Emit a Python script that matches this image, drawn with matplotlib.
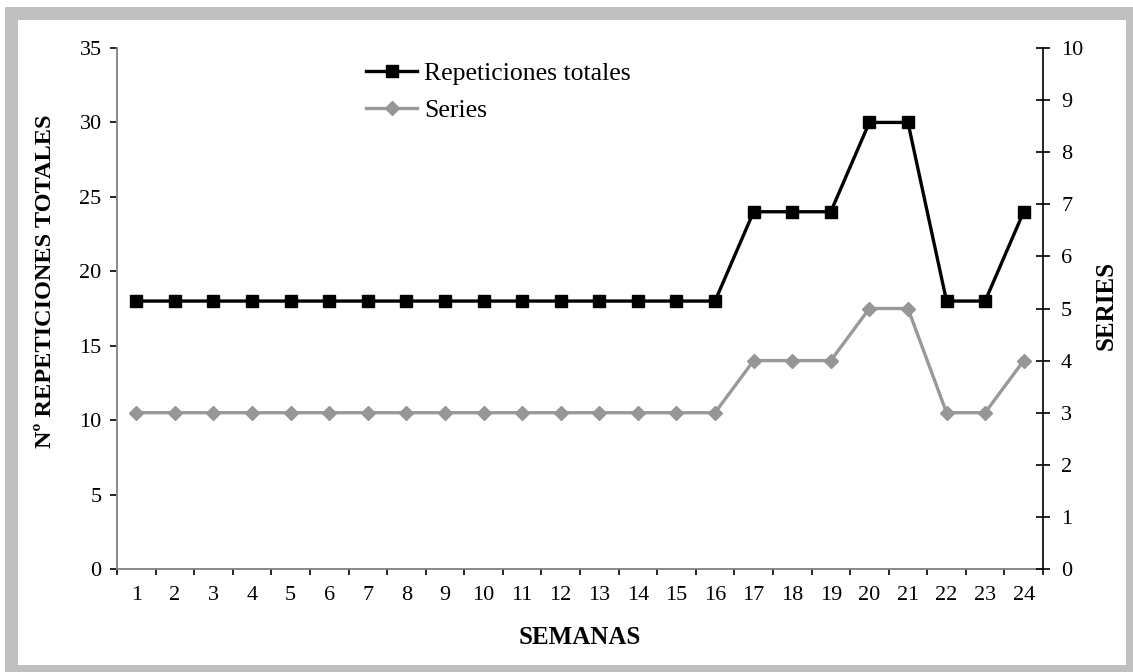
import matplotlib
matplotlib.use("Agg")
import matplotlib.pyplot as plt
from matplotlib.patches import Rectangle
from matplotlib.ticker import FixedLocator, NullFormatter

plt.rcParams['font.family'] = ['Liberation Serif', 'DejaVu Serif']

# weekly training load
semanas = list(range(1, 25))
repeticiones = [18, 18, 18, 18, 18, 18, 18, 18, 18, 18, 18, 18, 18, 18, 18, 18,
                24, 24, 24, 30, 30, 18, 18, 24]
series = [3, 3, 3, 3, 3, 3, 3, 3, 3, 3, 3, 3, 3, 3, 3, 3,
          4, 4, 4, 5, 5, 3, 3, 4]

black = '#000000'
gray_line = '#999999'
axis_gray = '#808080'
tick_fs = 16
label_fs = 17.5
legend_fs = 18.5

fig = plt.figure(figsize=(11.33, 6.72), dpi=100)
fig.patch.set_facecolor('white')

# grey frame with white panel
fig.patches.append(Rectangle((5 / 1133, 0), 1, 665 / 672, transform=fig.transFigure,
                             facecolor='#c0c0c0', edgecolor='none', zorder=-10))
fig.patches.append(Rectangle((18 / 1133, 7 / 672), 1108 / 1133, 645 / 672,
                             transform=fig.transFigure, facecolor='white',
                             edgecolor='none', zorder=-9))

ax = fig.add_axes([117 / 1133, 103 / 672, 926 / 1133, 521 / 672])
ax.set_facecolor('none')
ax2 = ax.twinx()

l1, = ax.plot(semanas, repeticiones, color=black, lw=2.4, marker='s', ms=8.5,
              markerfacecolor=black, markeredgecolor=black, label='Repeticiones totales',
              zorder=3)
l2, = ax2.plot(semanas, series, color=gray_line, lw=2.4, marker='D', ms=7.5,
               markerfacecolor='#969696', markeredgecolor='#969696', label='Series',
               zorder=3)

ax.set_xlim(0.5, 24.5)
ax.set_ylim(0, 35)
ax2.set_ylim(0, 10)
ax.set_yticks(range(0, 36, 5))
ax2.set_yticks(range(0, 11))

# category boundaries get tick marks, labels sit at the centres
ax.xaxis.set_major_locator(FixedLocator([i + 0.5 for i in range(0, 25)]))
ax.xaxis.set_major_formatter(NullFormatter())
ax.xaxis.set_minor_locator(FixedLocator(semanas))
ax.set_xticklabels([str(s) for s in semanas], minor=True)
ax.tick_params(axis='x', which='major', direction='out', length=4, width=1.2,
               color=black)
ax.tick_params(axis='x', which='minor', length=0, pad=12, labelsize=tick_fs)
ax.tick_params(axis='y', direction='out', length=5, width=1.2, color=black,
               pad=6, labelsize=tick_fs)
ax2.tick_params(axis='y', direction='inout', length=10, width=1.2, color=black,
                pad=8, labelsize=tick_fs)

for side in ['top', 'right']:
    ax.spines[side].set_visible(False)
ax.spines['left'].set_color(axis_gray)
ax.spines['bottom'].set_color(axis_gray)
ax.spines['left'].set_linewidth(1.3)
ax.spines['bottom'].set_linewidth(1.3)
ax2.spines['top'].set_visible(False)
ax2.spines['left'].set_visible(False)
ax2.spines['bottom'].set_visible(False)
ax2.spines['right'].set_color(black)
ax2.spines['right'].set_linewidth(1.2)

ax.set_xlabel('SEMANAS', fontsize=label_fs + 0.5, fontweight='bold')
ax.xaxis.set_label_coords(0.5, -0.109)
ax.set_ylabel('Nº REPETICIONES TOTALES', fontsize=label_fs, fontweight='bold')
ax.yaxis.set_label_coords(-0.066, 0.553)
ax2.set_ylabel('SERIES', fontsize=label_fs + 0.5, fontweight='bold', rotation=90)
ax2.yaxis.set_label_coords(1.056, 0.505)

ax.legend(handles=[l1, l2], loc='upper left', bbox_to_anchor=(366 / 1133, 1 - 62 / 672),
          bbox_transform=fig.transFigure, frameon=False, fontsize=legend_fs,
          handlelength=2.0, handletextpad=0.25, labelspacing=0.55, borderaxespad=0,
          borderpad=0)

fig.savefig('out.png', dpi=100)
